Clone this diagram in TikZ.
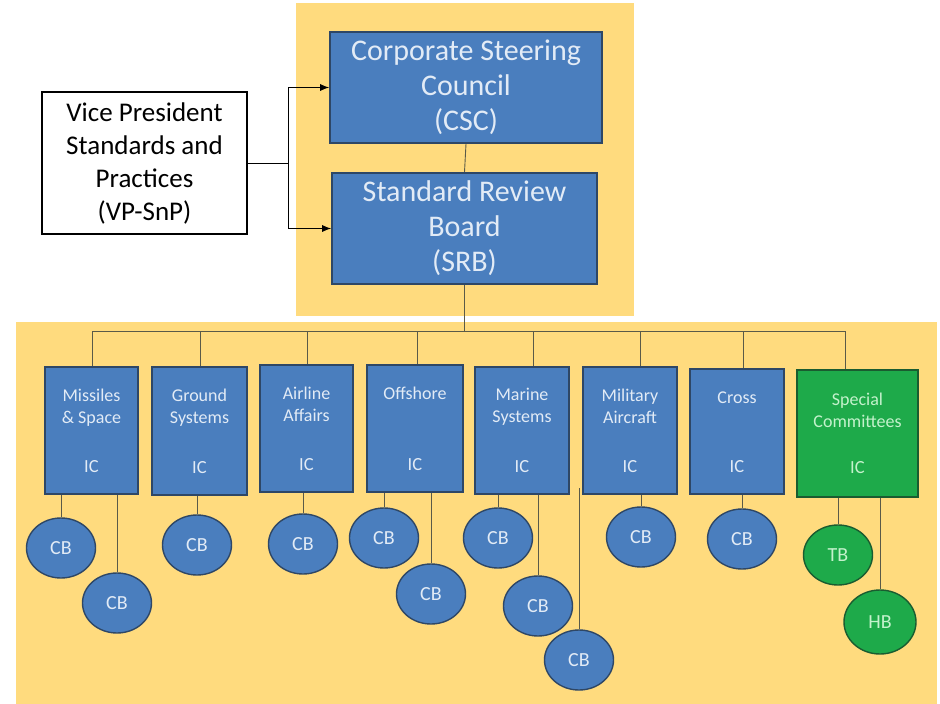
\documentclass[tikz,border=0pt]{standalone}
\usepackage{fontspec}
\setmainfont{Carlito}
\usetikzlibrary{shapes.geometric,arrows.meta}
\definecolor{panel}{HTML}{FFDB7E}
\definecolor{boxblue}{HTML}{4A7EBE}
\definecolor{boxedge}{HTML}{2E4766}
\definecolor{boxgreen}{HTML}{1EAA4A}
\definecolor{greenedge}{HTML}{1A5C30}
\definecolor{txtblue}{HTML}{E2EBF6}
\definecolor{txtgreen}{HTML}{C4F2CC}
\definecolor{connc}{HTML}{5A5A48}
\tikzset{
  topbox/.style={draw=boxedge, line width=1.6pt, fill=boxblue, text=txtblue, align=center, inner sep=0pt,
    font=\fontsize{30pt}{35pt}\selectfont},
  vpbox/.style={draw=black, line width=1.8pt, fill=white, align=center, inner sep=0pt,
    minimum width=205pt, minimum height=142pt, font=\fontsize{27pt}{33pt}\selectfont},
  icbox/.style={draw=boxedge, line width=1.4pt, fill=boxblue, inner sep=0pt},
  icgbox/.style={draw=greenedge, line width=1.4pt, fill=boxgreen, inner sep=0pt},
  ictitle/.style={anchor=north, align=center, inner sep=0pt, text=txtblue, font=\fontsize{18pt}{22pt}\selectfont},
  iclabel/.style={anchor=base, inner sep=0pt, text=txtblue, font=\fontsize{18.5pt}{22pt}\selectfont},
  cbnode/.style={ellipse, draw=boxedge, line width=1.4pt, fill=boxblue, text=txtblue, inner sep=0pt,
    minimum width=69pt, minimum height=60pt, font=\fontsize{20pt}{22pt}\selectfont},
  cbgreen/.style={cbnode, draw=greenedge, fill=boxgreen, text=txtgreen},
  conn/.style={draw=connc, line width=0.9pt},
  vparrow/.style={draw=black, line width=1pt, -{Latex[length=9pt,width=7pt]}},
}
\begin{document}
\begin{tikzpicture}[x=1pt,y=-1pt]
\useasboundingbox (0,0) rectangle (940,704);
\fill[white] (0,0) rectangle (940,704);
\fill[panel] (296,3) rectangle (634,316);
\fill[panel] (16,322) rectangle (937,704);

% top boxes
\node[topbox, minimum width=272pt, minimum height=111pt] (csc) at (466,87.5) {Corporate Steering\\Council\\(CSC)};
\node[topbox, minimum width=265pt, minimum height=111pt] (srb) at (464.5,228.5) {Standard Review\\Board\\(SRB)};
\node[vpbox] (vp) at (144.5,163) {Vice President\\Standards and\\Practices\\(VP-SnP)};

\coordinate (split) at (288,163);
\draw[line width=1pt] (vp.east) -- (split);
\draw[vparrow] (split) |- (csc.west);
\draw[vparrow] (split) |- (srb.west);
\draw[conn] (csc.south) -- (srb.north);

% bus
\coordinate (bus1) at (92,331);
\coordinate (bus2) at (200,331);
\coordinate (bus3) at (307,331);
\coordinate (bus4) at (417,331);
\coordinate (bus5) at (533,331);
\coordinate (bus6) at (640,331);
\coordinate (bus7) at (743,331);
\coordinate (bus8) at (845,331);
\draw[conn] (srb.south) -- (srb.south |- bus1);
\draw[conn] (bus1) -- (bus8);

% IC boxes
\node[icbox, minimum width=93pt, minimum height=127pt] (b1) at (91.5,430.5) {};
\node[icbox, minimum width=95pt, minimum height=128pt] (b2) at (199.5,431) {};
\node[icbox, minimum width=93pt, minimum height=127pt] (b3) at (306.5,428.5) {};
\node[icbox, minimum width=96pt, minimum height=127pt] (b4) at (415,428.5) {};
\node[icbox, minimum width=94pt, minimum height=127pt] (b5) at (522,430.5) {};
\node[icbox, minimum width=94pt, minimum height=127pt] (b6) at (630,430.5) {};
\node[icbox, minimum width=94pt, minimum height=125pt] (b7) at (737,431.5) {};
\node[icgbox, minimum width=121pt, minimum height=127pt] (b8) at (857.5,433.5) {};

\foreach \i in {1,...,8} {\draw[conn] (bus\i) -- (bus\i |- b\i.north);}

\node[ictitle] (t1) at ([yshift=-22pt]b1.north) {Missiles\\\& Space};
\node[ictitle] (t2) at ([yshift=-22pt]b2.north) {Ground\\Systems};
\node[ictitle] (t3) at ([yshift=-22pt]b3.north) {Airline\\Affairs};
\node[ictitle] (t4) at ([yshift=-22pt]b4.north) {Offshore};
\node[ictitle] (t5) at ([yshift=-22pt]b5.north) {Marine\\Systems};
\node[ictitle] (t6) at ([yshift=-22pt]b6.north) {Military\\Aircraft};
\node[ictitle] (t7) at ([yshift=-23pt]b7.north) {Cross};
\node[ictitle, text=txtgreen] (t8) at ([yshift=-23pt]b8.north) {Special\\Committees};
\foreach \i in {1,...,7} {\node[iclabel] (ic\i) at ([yshift=22pt]b\i.south) {IC};}
\node[iclabel, text=txtgreen] (ic8) at ([yshift=24pt]b8.south) {IC};

% CB circles
\node[cbnode] (c11) at (61,548) {CB};
\node[cbnode] (c12) at (117,603) {CB};
\node[cbnode] (c21) at (197,545) {CB};
\node[cbnode] (c31) at (303,544) {CB};
\node[cbnode] (c41) at (384,538) {CB};
\node[cbnode] (c42) at (431,594) {CB};
\node[cbnode] (c51) at (498,538) {CB};
\node[cbnode] (c52) at (538,606) {CB};
\node[cbnode] (c53) at (579,660) {CB};
\node[cbnode] (c61) at (641,537) {CB};
\node[cbnode] (c71) at (742,539) {CB};
\node[cbgreen] (tb) at (838,555) {TB};
\node[cbgreen, minimum width=72pt, minimum height=64pt] (hb) at (880,622) {HB};

\draw[conn] (c11.north |- b1.south) -- (c11.north);
\draw[conn] (c12.north |- b1.south) -- (c12.north);
\draw[conn] (c21.north |- b2.south) -- (c21.north);
\draw[conn] (c31.north |- b3.south) -- (c31.north);
\draw[conn] (c41.north |- b4.south) -- (c41.north);
\draw[conn] (c42.north |- b4.south) -- (c42.north);
\draw[conn] (c51.north |- b5.south) -- (c51.north);
\draw[conn] (c52.north |- b5.south) -- (c52.north);
\coordinate (m3top) at (579,488);
\draw[conn] (m3top) -- (c53.north);
\draw[conn] (c61.north |- b6.south) -- (c61.north);
\draw[conn] (c71.north |- b7.south) -- (c71.north);
\draw[conn] (tb.north |- b8.south) -- (tb.north);
\draw[conn] (hb.north |- b8.south) -- (hb.north);
\end{tikzpicture}
\end{document}
